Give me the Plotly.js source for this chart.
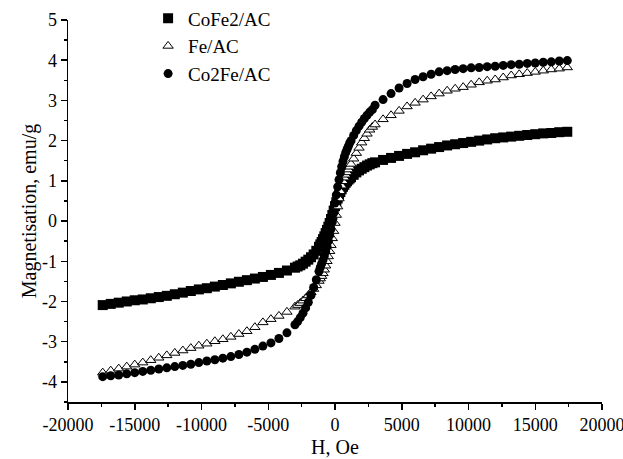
<!DOCTYPE html>
<html>
<head>
<meta charset="utf-8">
<script src="https://cdn.plot.ly/plotly-3.0.1.min.js"></script>
<style>
  html, body { margin: 0; padding: 0; background: #fff; }
  #chart { width: 623px; height: 459px; }
</style>
</head>
<body>
<div id="chart"></div>
<script>
// Applied field, Oe (shared sweep for all three samples)
const fieldOe = [
  -17400, -16800, -16200, -15600, -15000, -14400, -13800, -13200, -12600, -12000,
  -11400, -10800, -10200, -9600, -9000, -8400, -7800, -7200, -6600, -6000,
  -5400, -4800, -4200, -3600, -3000,
  -2800, -2600, -2400, -2200, -2000, -1800, -1600, -1400, -1200,
  -1100, -1000, -900, -800, -700, -600, -500, -400, -300, -200, -100,
  0, 100, 200, 300, 400, 500, 600, 700, 800, 900, 1000, 1100,
  1200, 1400, 1600, 1800, 2000, 2200, 2400, 2600, 2800,
  3000, 3600, 4200, 4800, 5400, 6000, 6600, 7200, 7800, 8400,
  9000, 9600, 10200, 10800, 11400, 12000, 12600, 13200, 13800, 14400,
  15000, 15600, 16200, 16800, 17400
];

// Magnetisation, emu/g
const magCoFe2 = [
  -2.09, -2.06, -2.03, -2.00, -1.97, -1.95, -1.92, -1.89, -1.86, -1.82,
  -1.78, -1.74, -1.70, -1.67, -1.63, -1.59, -1.55, -1.51, -1.47, -1.43,
  -1.39, -1.34, -1.29, -1.23, -1.16,
  -1.13, -1.10, -1.06, -1.01, -0.96, -0.90, -0.83, -0.74, -0.64,
  -0.58, -0.52, -0.45, -0.38, -0.30, -0.22, -0.14, -0.05, 0.05, 0.15, 0.26,
  0.37, 0.47, 0.56, 0.65, 0.72, 0.79, 0.85, 0.90, 0.95, 0.99, 1.03, 1.06,
  1.09, 1.15, 1.21, 1.26, 1.30, 1.34, 1.38, 1.41, 1.44,
  1.46, 1.52, 1.57, 1.62, 1.67, 1.71, 1.76, 1.80, 1.84, 1.88,
  1.91, 1.94, 1.97, 2.00, 2.03, 2.06, 2.08, 2.10, 2.12, 2.14,
  2.16, 2.18, 2.19, 2.21, 2.22
];

const magFe = [
  -3.77, -3.72, -3.67, -3.62, -3.57, -3.52, -3.46, -3.40, -3.34, -3.28,
  -3.22, -3.16, -3.10, -3.05, -2.99, -2.94, -2.88, -2.81, -2.74, -2.64,
  -2.52, -2.44, -2.36, -2.26, -2.13,
  -2.09, -2.04, -1.98, -1.92, -1.85, -1.77, -1.69, -1.60, -1.49,
  -1.43, -1.37, -1.30, -1.21, -1.11, -1.00, -0.88, -0.75, -0.60, -0.43, -0.25,
  -0.05, 0.15, 0.36, 0.56, 0.74, 0.88, 0.99, 1.08, 1.15, 1.21, 1.28, 1.35,
  1.42, 1.55, 1.69, 1.82, 1.95, 2.06, 2.17, 2.27, 2.34,
  2.40, 2.53, 2.63, 2.74, 2.85, 2.94, 3.02, 3.10, 3.17, 3.24,
  3.29, 3.33, 3.39, 3.45, 3.49, 3.52, 3.57, 3.62, 3.65, 3.68,
  3.71, 3.74, 3.77, 3.79, 3.82
];

const magCo2Fe = [
  -3.87, -3.85, -3.83, -3.80, -3.77, -3.74, -3.71, -3.68, -3.65, -3.62,
  -3.59, -3.56, -3.52, -3.48, -3.45, -3.41, -3.37, -3.32, -3.26, -3.19,
  -3.11, -3.03, -2.92, -2.78, -2.58,
  -2.50, -2.40, -2.29, -2.16, -2.02, -1.85, -1.65, -1.46, -1.25,
  -1.15, -1.06, -0.97, -0.87, -0.76, -0.64, -0.50, -0.35, -0.20, -0.02, 0.20,
  0.45, 0.65, 0.85, 1.03, 1.20, 1.35, 1.48, 1.60, 1.70, 1.78, 1.86, 1.94,
  2.00, 2.13, 2.25, 2.36, 2.46, 2.55, 2.63, 2.71, 2.77,
  2.88, 3.02, 3.17, 3.31, 3.42, 3.52, 3.59, 3.65, 3.71, 3.74,
  3.77, 3.79, 3.81, 3.82, 3.84, 3.85, 3.87, 3.89, 3.90, 3.92,
  3.93, 3.95, 3.96, 3.98, 3.99
];

const seriesNames = ['CoFe2/AC', 'Fe/AC', 'Co2Fe/AC'];

// Axis ticks (plain hyphen for negative labels)
const xTickVals = [-20000, -15000, -10000, -5000, 0, 5000, 10000, 15000, 20000];
const xTickText = ['-20000', '-15000', '-10000', '-5000', '0', '5000', '10000', '15000', '20000'];
const yTickVals = [-4, -3, -2, -1, 0, 1, 2, 3, 4, 5];
const yTickText = ['-4', '-3', '-2', '-1', '0', '1', '2', '3', '4', '5'];

const serif = 'Liberation Serif, Times New Roman, serif';

const traces = [
  {
    x: fieldOe, y: magCoFe2, name: seriesNames[0],
    type: 'scatter', mode: 'markers',
    marker: { symbol: 'square', size: 10, color: '#000' }
  },
  {
    x: fieldOe, y: magFe, name: seriesNames[1],
    type: 'scatter', mode: 'markers',
    marker: { symbol: 'triangle-up', size: 9, color: '#fff', line: { color: '#000', width: 1 } }
  },
  {
    x: fieldOe, y: magCo2Fe, name: seriesNames[2],
    type: 'scatter', mode: 'markers',
    marker: { symbol: 'circle', size: 9, color: '#000' }
  }
];

const axisCommon = {
  showgrid: false,
  zeroline: false,
  showline: true,
  linecolor: '#000',
  linewidth: 1.5,
  mirror: false,
  ticks: 'outside',
  ticklen: 6,
  tickwidth: 1.5,
  tickcolor: '#000',
  tickfont: { family: serif, size: 18, color: '#000' },
  tickmode: 'array',
  ticklabeloverflow: 'allow'
};

const layout = {
  width: 623,
  height: 459,
  margin: { l: 68, r: 21, t: 20, b: 57, autoexpand: false },
  paper_bgcolor: '#fff',
  plot_bgcolor: '#fff',
  font: { family: serif, color: '#000' },
  showlegend: true,
  legend: {
    x: 0.15, y: 1.054, xanchor: 'left', yanchor: 'top',
    bgcolor: 'rgba(0,0,0,0)',
    font: { family: serif, size: 19, color: '#000' },
    tracegroupgap: 0
  },
  xaxis: Object.assign({}, axisCommon, {
    range: [-20000, 20000],
    tickvals: xTickVals,
    ticktext: xTickText,
    minor: { tickmode: 'linear', tick0: 0, dtick: 2500, ticks: 'outside', ticklen: 3, tickwidth: 1.5, tickcolor: '#000' },
    title: { text: 'H, Oe', font: { family: serif, size: 20, color: '#000' }, standoff: 6 }
  }),
  yaxis: Object.assign({}, axisCommon, {
    range: [-4.5, 5],
    tickvals: yTickVals,
    ticktext: yTickText,
    minor: { tickmode: 'linear', tick0: 0, dtick: 0.5, ticks: 'outside', ticklen: 3, tickwidth: 1.5, tickcolor: '#000' },
    title: { text: 'Magnetisation, emu/g', font: { family: serif, size: 20, color: '#000' }, standoff: 0 }
  })
};

Plotly.newPlot('chart', traces, layout, { displayModeBar: false, staticPlot: true });
</script>
</body>
</html>
